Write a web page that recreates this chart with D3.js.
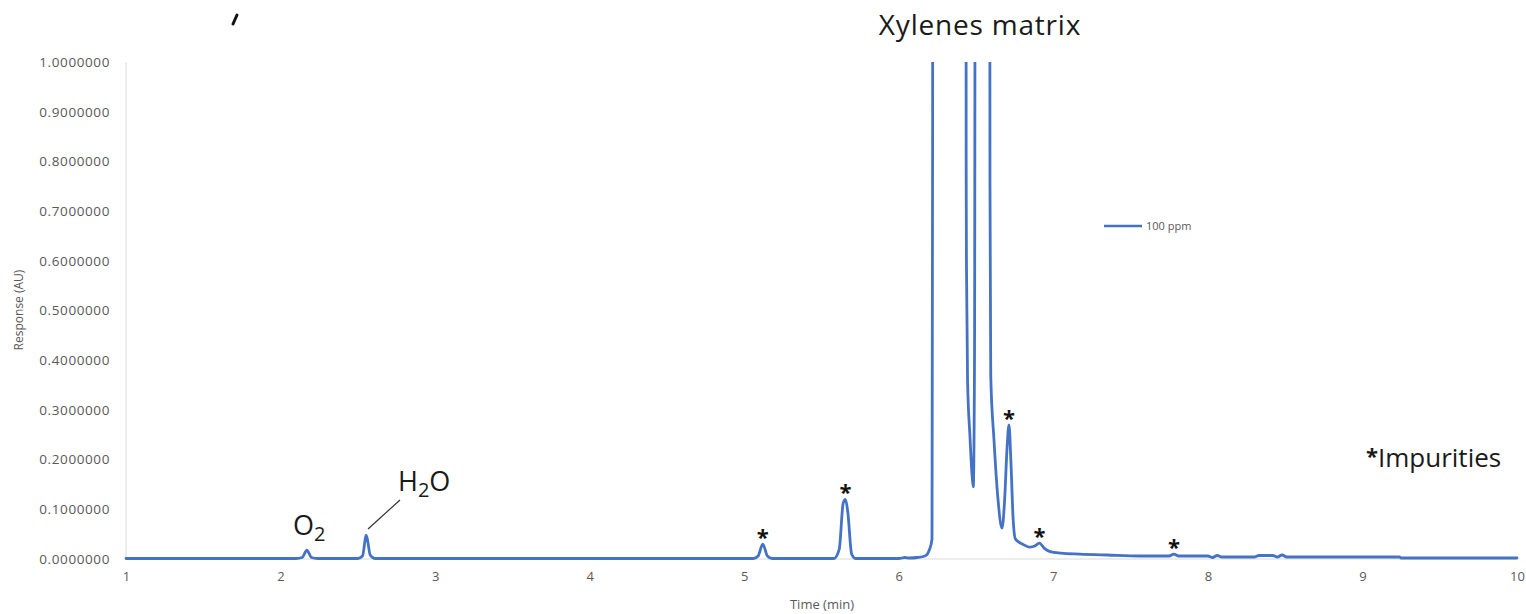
<!DOCTYPE html>
<html>
<head>
<meta charset="utf-8">
<script src="https://cdn.jsdelivr.net/npm/d3@7"></script>
<style>
  html, body { margin: 0; padding: 0; background: #ffffff; }
  svg { display: block; }
  text { font-family: "Open Sans", "Liberation Sans", sans-serif; }
</style>
</head>
<body>
<svg id="chart" width="1526" height="614"></svg>
<script>
// ---- data ----
const timeMin = [
  1.00, 2.10, 2.14, 2.17, 2.20, 2.24,
  2.50, 2.53, 2.555, 2.58, 2.61,
  5.06, 5.09, 5.12, 5.15, 5.18,
  5.58, 5.615, 5.64, 5.655, 5.67, 5.695, 5.72,
  6.00, 6.04, 6.07, 6.12, 6.17, 6.20, 6.215, 6.219, 6.222,
  6.432, 6.436, 6.438, 6.445, 6.46, 6.475, 6.482, 6.49, 6.50,
  6.585, 6.59, 6.595, 6.616, 6.642, 6.668, 6.685, 6.70, 6.713, 6.725, 6.74, 6.755,
  6.80, 6.85, 6.88, 6.91, 6.94, 6.98, 7.05, 7.17, 7.35, 7.56,
  7.75, 7.78, 7.81, 8.00, 8.03, 8.06, 8.09, 8.30, 8.33, 8.42, 8.45, 8.48, 8.51,
  9.24, 9.25, 10.00
];
const response100ppm = [
  0.001, 0.001, 0.003, 0.018, 0.003, 0.001,
  0.001, 0.006, 0.048, 0.008, 0.001,
  0.001, 0.006, 0.030, 0.006, 0.001,
  0.001, 0.020, 0.112, 0.120, 0.095, 0.010, 0.001,
  0.001, 0.003, 0.002, 0.003, 0.006, 0.020, 0.040, 0.860, 3.000,
  3.000, 0.790, 0.590, 0.360, 0.250, 0.165, 0.145, 0.400, 3.000,
  3.000, 0.760, 0.370, 0.240, 0.120, 0.062, 0.120, 0.220, 0.270, 0.200, 0.080, 0.040,
  0.030, 0.024, 0.026, 0.032, 0.022, 0.015, 0.012, 0.010, 0.008, 0.006,
  0.006, 0.010, 0.006, 0.006, 0.003, 0.007, 0.004, 0.004, 0.007, 0.007, 0.004, 0.008, 0.004,
  0.004, 0.002, 0.002
];
const yTicks = [0, 0.1, 0.2, 0.3, 0.4, 0.5, 0.6, 0.7, 0.8, 0.9, 1.0];
const xTicks = [1, 2, 3, 4, 5, 6, 7, 8, 9, 10];
const seriesName = "100 ppm";
const impurityTimes = [5.12, 5.655, 6.713, 6.91, 7.78];
const impurityLevels = [0.030, 0.120, 0.270, 0.032, 0.010];

// ---- layout ----
const svg = d3.select("#chart");
const x = d3.scaleLinear().domain([1, 10]).range([126, 1517]);
const y = d3.scaleLinear().domain([0, 1]).range([559, 62]);
const blue = "#4472C4";
const axisGray = "#595959";

svg.append("defs").append("clipPath").attr("id", "plotClip")
  .append("rect").attr("x", 120).attr("y", y(1)).attr("width", 1406).attr("height", y(0) - y(1) + 10);

// axis lines
svg.append("line").attr("x1", x(1)).attr("x2", x(1)).attr("y1", y(1)).attr("y2", y(0))
  .attr("stroke", "#d9d9d9").attr("stroke-width", 1);
svg.append("line").attr("x1", x(1)).attr("x2", x(10)).attr("y1", y(0)).attr("y2", y(0))
  .attr("stroke", "#d9d9d9").attr("stroke-width", 1);

// y axis
const yAxis = svg.append("g").attr("transform", `translate(${x(1)},0)`)
  .call(d3.axisLeft(y).tickValues(yTicks).tickFormat(d3.format(".7f")).tickSize(0).tickPadding(16));
yAxis.select(".domain").remove();
yAxis.selectAll("text").attr("fill", axisGray).style("font-size", "13.5px")
  .style("letter-spacing", "0.6px").style("font-family", "'Open Sans', sans-serif");

// x axis
const xAxis = svg.append("g").attr("transform", `translate(0,${y(0)})`)
  .call(d3.axisBottom(x).tickValues(xTicks).tickFormat(d3.format("d")).tickSize(0).tickPadding(13));
xAxis.select(".domain").remove();
xAxis.selectAll("text").attr("fill", axisGray).style("font-size", "13px")
  .style("font-family", "'Open Sans', sans-serif");

// axis titles
svg.append("text").attr("x", 822).attr("y", 609).attr("text-anchor", "middle")
  .attr("fill", axisGray).style("font-size", "13px").text("Time (min)");
svg.append("text").attr("transform", "translate(23,310) rotate(-90)").attr("text-anchor", "middle")
  .attr("fill", axisGray).style("font-size", "12px").text("Response (AU)");

// data line
const pts = timeMin.map((t, i) => [t, response100ppm[i]]);
svg.append("path").datum(pts)
  .attr("clip-path", "url(#plotClip)")
  .attr("fill", "none").attr("stroke", blue).attr("stroke-width", 2.8)
  .attr("stroke-linejoin", "round").attr("stroke-linecap", "round")
  .attr("d", d3.line().curve(d3.curveMonotoneX).x(d => x(d[0])).y(d => y(d[1])));

// legend
svg.append("line").attr("x1", 1104).attr("x2", 1142).attr("y1", 226).attr("y2", 226)
  .attr("stroke", blue).attr("stroke-width", 2.6);
svg.append("text").attr("x", 1146).attr("y", 230).attr("fill", axisGray)
  .style("font-size", "11px").text(seriesName);

// annotations
svg.append("text").attr("x", 980).attr("y", 35).attr("text-anchor", "middle")
  .attr("fill", "#1a1a1a").style("font-size", "28px").style("letter-spacing", "0.8px").text("Xylenes matrix");

const o2 = svg.append("text").attr("x", 293).attr("y", 535).attr("fill", "#1a1a1a").style("font-size", "27px");
o2.append("tspan").text("O");
o2.append("tspan").attr("dy", 6).style("font-size", "20px").text("2");

const h2o = svg.append("text").attr("x", 398).attr("y", 491).attr("fill", "#1a1a1a").style("font-size", "27px");
h2o.append("tspan").text("H");
h2o.append("tspan").attr("dy", 6).style("font-size", "20px").text("2");
h2o.append("tspan").attr("dy", -6).text("O");

svg.append("line").attr("x1", 368).attr("y1", 529).attr("x2", 400).attr("y2", 500)
  .attr("stroke", "#333").attr("stroke-width", 1.2);

// impurity asterisks
svg.selectAll("text.star").data(impurityTimes).enter().append("text")
  .attr("class", "star")
  .attr("x", d => x(d))
  .attr("y", (d, i) => y(impurityLevels[i]) + 1)
  .attr("text-anchor", "middle").attr("fill", "#111")
  .style("font-size", "22px").style("font-weight", "bold").text("*");

const imp = svg.append("text").attr("x", 1366).attr("y", 467).attr("fill", "#1a1a1a").style("font-size", "26px");
imp.append("tspan").style("font-size", "22px").style("font-weight", "bold").attr("dy", -3).text("*");
imp.append("tspan").attr("dy", 3).text("Impurities");

// cropped fragment at top-left
svg.append("line").attr("x1", 237).attr("y1", 15).attr("x2", 233).attr("y2", 24)
  .attr("stroke", "#111").attr("stroke-width", 3).attr("stroke-linecap", "round");
</script>
</body>
</html>
